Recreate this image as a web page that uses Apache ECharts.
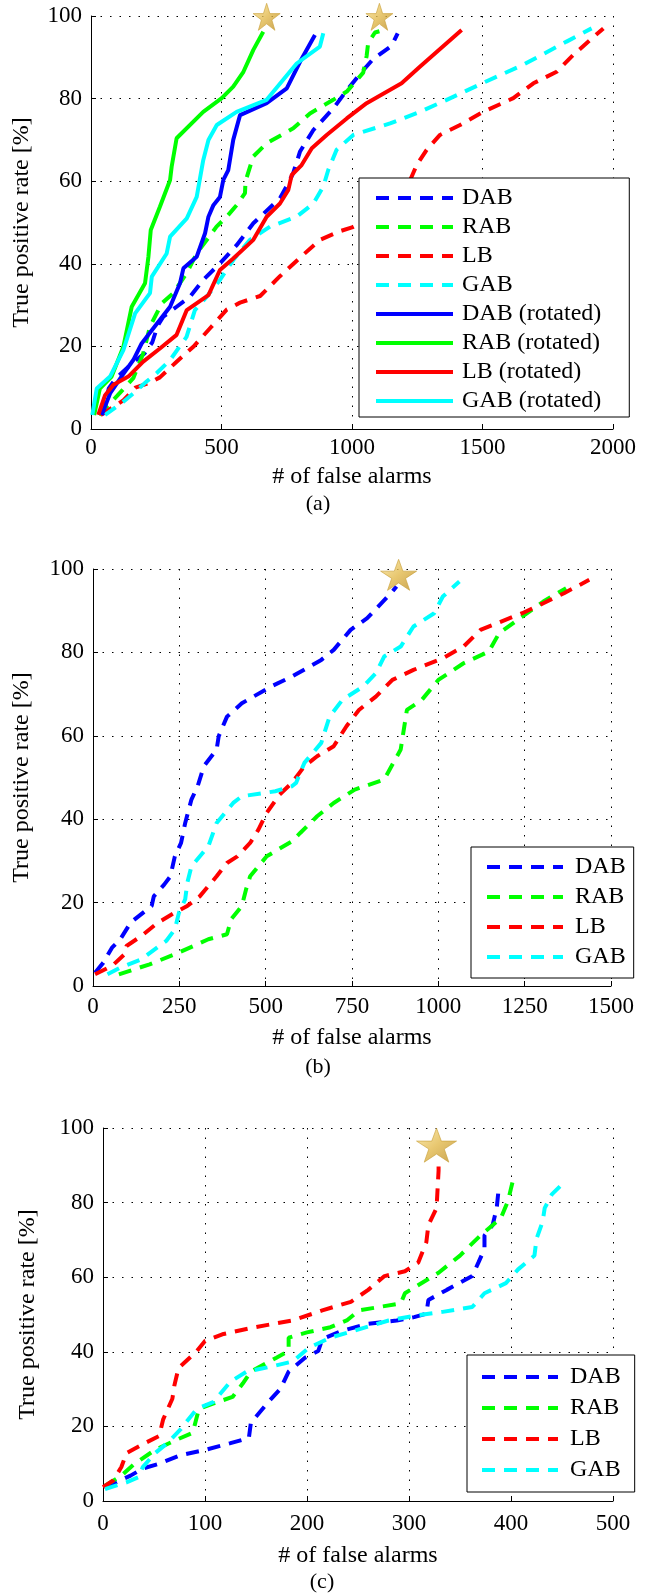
<!DOCTYPE html>
<html>
<head>
<meta charset="utf-8">
<script src="https://cdn.jsdelivr.net/npm/echarts@6/dist/echarts.min.js"></script>
<style>
  html, body { margin: 0; padding: 0; background: #fff; }
  #chart { width: 655px; height: 1594px; }
</style>
</head>
<body>
<div id="chart"></div>
<script>
// (a) all eight detectors, 0..2000 false alarms
var aDab = [[47,3.4],[68,9.8],[95,12.2],[150,15.5],[205,18.3],[235,21],[255,25],[277,27.2],[328,29.6],[379,32],[430,36.1],[494,40.1],[558,44.5],[622,49.8],[724,55.9],[760,60],[775,62],[801,67.2],[852,72.4],[928,77.6],[980,82],[1031,86],[1080,89.5],[1152,92.8],[1175,95.8]];
var aRab = [[30,3.4],[100,8],[162,12.3],[200,18.3],[226,24.8],[271,30.4],[315,32.9],[366,37.7],[405,42.5],[481,49],[520,51.4],[558,54.2],[590,57.1],[592,60],[622,66],[673,69.2],[775,72.8],[839,76.4],[928,79.7],[980,81.7],[1043,86.3],[1056,90.3],[1062,93.5],[1088,96],[1105,96.3]];
var aLb = [[37,3.4],[90,5.5],[125,7],[170,10],[226,11.2],[264,12.5],[328,16.3],[392,19.9],[456,24.4],[520,28.9],[571,30.6],[648,32.2],[724,37],[801,41.5],[877,45.8],[954,47.9],[1000,48.8],[1100,52],[1200,57],[1248,63.9],[1286,67.6],[1337,71.2],[1414,73.6],[1503,76.8],[1618,80.1],[1695,83.7],[1784,86.5],[1848,90.6],[1963,97]];
var aGab = [[54,3.4],[124,6.6],[162,8.6],[213,11.5],[251,13.5],[303,16.7],[366,22.3],[398,28.8],[443,32],[494,36.1],[545,40.9],[609,45.8],[686,49],[788,51.4],[852,54.6],[890,58.7],[909,62.7],[941,67.6],[1005,71.2],[1146,74],[1260,76.8],[1363,79.7],[1516,84.2],[1656,88.2],[1822,93.8],[1918,97]];
var aDabRot = [[41,3.4],[73,8.6],[120,13],[162,16.7],[194,20.7],[239,24.4],[303,29.6],[341,35.3],[354,38.9],[405,41.7],[437,47.4],[450,51.4],[469,54.2],[494,56.2],[507,60.3],[526,62.7],[545,70],[571,76],[673,78.9],[750,82.5],[801,88.9],[858,95.4]];
var aRabRot = [[12,3.4],[34,9.8],[79,12.7],[124,19.9],[156,29.6],[207,35.3],[220,41.7],[229,48.2],[264,53.8],[303,60.3],[309,63.5],[328,70.4],[430,76.8],[501,80.1],[545,82.9],[584,86.5],[622,91.8],[660,96.2]];
var aLbRot = [[28,3.4],[54,8.2],[86,10.7],[143,12.7],[200,16.3],[264,19.5],[328,22.8],[367,28.8],[450,32.4],[494,38.5],[545,41.3],[622,45.8],[673,51.4],[724,54.6],[756,57.9],[769,61.5],[807,63.9],[846,68],[903,71.2],[980,75.2],[1056,78.9],[1190,83.7],[1260,87.7],[1420,96.6]];
var aGabRot = [[5,3.4],[22,9.8],[73,12.7],[124,19.1],[169,28],[226,32.9],[233,36.9],[290,42.5],[303,46.6],[367,51],[405,56.2],[430,65.1],[450,70],[482,73.6],[558,76.8],[673,79.7],[788,88.5],[877,92.6],[890,95.8]];
var aStars = [[673,99.8],[1105,99.8]];

// (b) 0..1500
var bDab = [[6,3.2],[30,5.6],[55,9.2],[79,11.2],[109,15.2],[127,16.4],[170,19.2],[176,21.5],[206,24.3],[224,26.3],[237,31.1],[255,34.3],[267,39.1],[285,44.7],[303,47.9],[321,52.7],[358,56.7],[364,59.9],[388,64.6],[431,67.8],[515,71.8],[576,74.2],[661,78.2],[697,80.6],[746,85.4],[794,88.2],[867,94.6],[879,95.8]];
var bRab = [[75,2.8],[164,5.2],[237,7.6],[334,11.2],[388,12.4],[400,16],[431,19.2],[443,23.1],[455,26.3],[503,31.1],[576,34.7],[600,36.7],[649,40.7],[697,43.9],[758,47.1],[843,49.5],[891,56.7],[897,59.9],[909,66.2],[952,68.6],[1000,73.4],[1073,77.4],[1146,80.2],[1176,84.6],[1243,88.6],[1304,92.2],[1370,95.4]];
var bLb = [[6,2.8],[55,4.8],[91,7.6],[97,9.6],[140,12],[188,15.2],[237,17.6],[273,19.2],[309,21.5],[358,26.3],[388,29.5],[418,31.1],[455,34.3],[479,37.5],[503,41.5],[540,45.9],[576,48.7],[612,52.7],[649,55.1],[697,57.5],[734,62.3],[770,66.2],[819,69.4],[867,73.4],[928,75.8],[1013,78.6],[1073,81.4],[1122,85.4],[1182,87.4],[1243,89.4],[1304,91.8],[1364,94.2],[1437,97.4]];
var bGab = [[42,2.8],[79,4.4],[140,6.4],[212,10.8],[237,13.6],[249,17.6],[267,20.8],[273,24.7],[285,28.7],[334,33.5],[358,39.1],[406,43.9],[431,45.5],[528,46.7],[576,47.9],[588,48.7],[612,53.5],[661,58.3],[685,64.6],[722,68.6],[782,71.8],[819,75],[843,79],[891,81.4],[928,86.2],[988,89.4],[1013,93.4],[1061,97]];
var bStars = [[885,98.6]];

// (c) 0..500
var cDab = [[2,3.7],[27,6.8],[39,8.7],[55,10],[76,12.3],[100,13.7],[125,15.5],[143,16.9],[145,21],[162,26.5],[174,30.1],[182,34.7],[198,38.4],[211,40.2],[215,43.4],[235,45.7],[260,47.5],[288,48.4],[305,49.3],[317,50.2],[319,53.9],[337,56.6],[362,60.3],[368,63.9],[374,67.6],[374,71.2],[382,74],[386,78.5],[388,84]];
var cRab = [[2,4.1],[18,6.8],[31,10],[51,13.7],[72,16.4],[88,18.3],[94,24.7],[112,26.5],[127,27.9],[137,31.5],[145,34.7],[170,38.4],[182,40.2],[182,43.8],[200,45.2],[223,46.6],[239,48.4],[251,51.1],[292,53],[296,55.7],[329,61.2],[350,65.8],[370,71.2],[390,75.8],[397,80.4],[403,87.2]];
var cLb = [[0,3.7],[10,5.5],[18,9.1],[23,12.8],[41,15.5],[55,17.4],[59,21.9],[68,27.4],[70,31],[74,35.6],[92,40.2],[100,42.9],[117,44.7],[149,46.6],[186,48.4],[215,51.1],[243,53.4],[260,56.6],[276,60.3],[296,61.6],[309,63.9],[317,69.4],[319,74],[327,78.5],[329,88.6],[329,90]];
var cGab = [[2,3.2],[23,5],[35,6.4],[39,9.1],[51,12.8],[63,15.5],[76,19.2],[92,24.7],[108,26.5],[125,32],[141,34.7],[166,36.1],[186,37.4],[202,41.1],[223,43.8],[247,45.7],[280,48.4],[309,49.8],[333,50.7],[362,52],[374,55.7],[395,58.4],[407,62.1],[423,65.8],[425,70.3],[431,74.9],[433,78.5],[440,82.2],[450,84.9]];
var cStars = [[327,95.4]];

var xMax = [2000, 1500, 500];
var xStep = [500, 250, 100];
var yTicks = [0, 20, 40, 60, 80, 100];

var FONT = 'Liberation Serif';
var DASH = [13, 9];
var LW = 4;
var colors = { DAB: '#0000ff', RAB: '#00ff00', LB: '#ff0000', GAB: '#00ffff' };
var starPath = 'path://M50,2 L61.5,37 L98,37 L68.5,58.5 L79.5,94 L50,72 L20.5,94 L31.5,58.5 L2,37 L38.5,37 Z';

function line(name, key, data, dashed, g) {
    return {
        type: 'line',
        name: name,
        xAxisIndex: g,
        yAxisIndex: g,
        data: data,
        symbol: 'none',
        animation: false,
        lineStyle: { color: colors[key], width: LW, type: dashed ? DASH : 'solid' },
        itemStyle: { color: colors[key] }
    };
}

function stars(data, g, size) {
    return {
        type: 'scatter',
        xAxisIndex: g,
        yAxisIndex: g,
        data: data,
        symbol: starPath,
        symbolSize: size,
        z: 6,
        animation: false,
        itemStyle: {
            color: {
                type: 'linear', x: 0, y: 0, x2: 1, y2: 1,
                colorStops: [
                    { offset: 0, color: '#fbe7a1' },
                    { offset: 0.5, color: '#e2b94c' },
                    { offset: 1, color: '#b98a25' }
                ]
            },
            borderColor: '#c9a03a',
            borderWidth: 0.8
        }
    };
}

function xAxis(g, labelMargin, nameGap) {
    return {
        type: 'value', gridIndex: g, min: 0, max: xMax[g], interval: xStep[g],
        name: '# of false alarms', nameLocation: 'middle', nameGap: nameGap,
        nameTextStyle: { fontFamily: FONT, fontSize: 24, color: '#000' },
        axisLine: { lineStyle: { color: '#000', width: 1 } },
        axisTick: { inside: true, length: 5, lineStyle: { color: '#000' } },
        axisLabel: {
            fontFamily: FONT, fontSize: 23, color: '#000', margin: labelMargin,
            formatter: function(v) { return String(v); }
        },
        splitLine: { show: true, lineStyle: { color: '#000', width: 1, type: [1.5, 8] } }
    };
}

function yAxis(g, nameGap) {
    return {
        type: 'value', gridIndex: g, min: yTicks[0], max: yTicks[yTicks.length - 1], interval: 20,
        name: 'True positive rate [%]', nameLocation: 'middle', nameGap: nameGap,
        nameTextStyle: { fontFamily: FONT, fontSize: 24, color: '#000' },
        axisLine: { show: true, lineStyle: { color: '#000', width: 1 } },
        axisTick: { show: true, inside: true, length: 5, lineStyle: { color: '#000' } },
        axisLabel: { fontFamily: FONT, fontSize: 23, color: '#000', margin: 9 },
        splitLine: { show: true, lineStyle: { color: '#000', width: 1, type: [1.5, 8] } }
    };
}

function legend(names, left, top, itemWidth, itemGap, padding, textPad) {
    return {
        data: names,
        orient: 'vertical',
        left: left,
        top: top,
        itemWidth: itemWidth,
        itemHeight: 24,
        itemGap: itemGap,
        padding: padding,
        selectedMode: false,
        backgroundColor: '#fff',
        borderColor: '#000',
        borderWidth: 1,
        borderRadius: 0,
        itemStyle: { opacity: 0 },
        lineStyle: { width: LW },
        textStyle: { fontFamily: FONT, fontSize: 24, lineHeight: 24, color: '#000', padding: [0, 0, 0, textPad] }
    };
}

var chart = echarts.init(document.getElementById('chart'));

var option = {
    backgroundColor: '#fff',
    animation: false,
    grid: [
        { left: 91, top: 16, width: 522, height: 413 },
        { left: 93, top: 569, width: 518, height: 417 },
        { left: 103, top: 1128, width: 510, height: 373 }
    ],
    xAxis: [xAxis(0, 7, 36), xAxis(1, 9, 40), xAxis(2, 11, 43)],
    yAxis: [yAxis(0, 57), yAxis(1, 59), yAxis(2, 63)],
    legend: [
        legend(['DAB', 'RAB', 'LB', 'GAB', 'DAB (rotated)', 'RAB (rotated)', 'LB (rotated)', 'GAB (rotated)'],
            359, 178, 77, 5, [8, 28, 4, 15], 4),
        legend(['DAB', 'RAB', 'LB', 'GAB'], 471, 847, 76, 6, [8, 8, 9, 14], 7),
        legend(['DAB', 'RAB', 'LB', 'GAB'], 467, 1355, 76, 7, [10, 14, 10, 13], 7)
    ],
    graphic: [
        { type: 'text', x: 318, y: 504, style: { text: '(a)', fontFamily: FONT, fontSize: 22, fill: '#000', align: 'center', verticalAlign: 'middle' } },
        { type: 'text', x: 318, y: 1067, style: { text: '(b)', fontFamily: FONT, fontSize: 22, fill: '#000', align: 'center', verticalAlign: 'middle' } },
        { type: 'text', x: 322, y: 1582, style: { text: '(c)', fontFamily: FONT, fontSize: 22, fill: '#000', align: 'center', verticalAlign: 'middle' } }
    ],
    series: [
        line('DAB', 'DAB', aDab, true, 0),
        line('RAB', 'RAB', aRab, true, 0),
        line('LB', 'LB', aLb, true, 0),
        line('GAB', 'GAB', aGab, true, 0),
        line('DAB (rotated)', 'DAB', aDabRot, false, 0),
        line('RAB (rotated)', 'RAB', aRabRot, false, 0),
        line('LB (rotated)', 'LB', aLbRot, false, 0),
        line('GAB (rotated)', 'GAB', aGabRot, false, 0),
        stars(aStars, 0, [27, 27]),

        line('DAB', 'DAB', bDab, true, 1),
        line('RAB', 'RAB', bRab, true, 1),
        line('LB', 'LB', bLb, true, 1),
        line('GAB', 'GAB', bGab, true, 1),
        stars(bStars, 1, [36, 31]),

        line('DAB', 'DAB', cDab, true, 2),
        line('RAB', 'RAB', cRab, true, 2),
        line('LB', 'LB', cLb, true, 2),
        line('GAB', 'GAB', cGab, true, 2),
        stars(cStars, 2, [40, 34])
    ]
};

chart.setOption(option);
</script>
</body>
</html>
